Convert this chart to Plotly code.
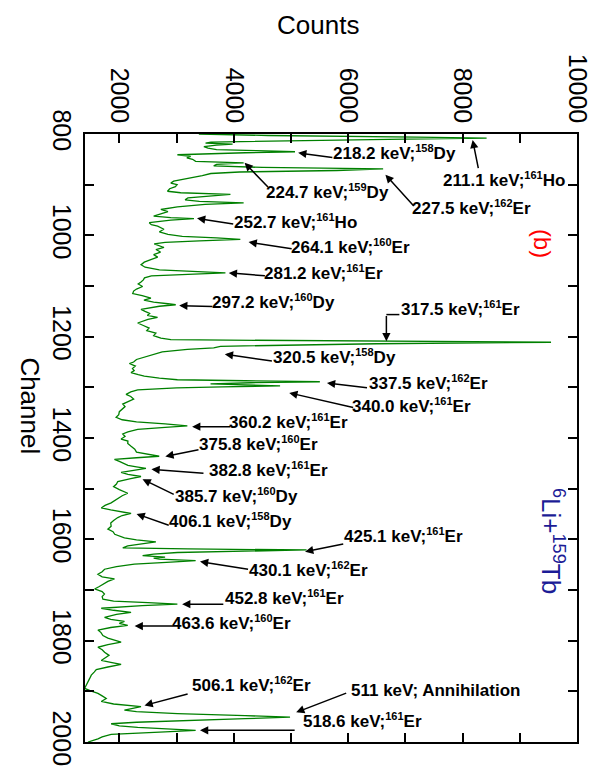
import plotly.graph_objects as go

# ---- spectrum data (channel, counts) ----
channel = [800, 803, 806, 808, 810, 813, 816, 818, 820, 822, 825, 828, 831, 833, 835, 837, 839, 841, 844, 847,
           850, 854, 857, 860, 863, 866, 869, 872, 875, 878, 882, 886, 890, 893, 897, 900, 904, 908, 913, 916,
           919, 922, 926, 930, 933, 936, 939, 944, 949, 953, 957, 962, 965, 967, 970, 975, 979, 982, 988, 993,
           998, 1002, 1005, 1008, 1011, 1014, 1017, 1021, 1024, 1028, 1033, 1038, 1043, 1048, 1053, 1058, 1063,
           1068, 1071, 1074, 1077, 1080, 1084, 1088, 1092, 1096, 1101, 1106, 1110, 1115, 1119, 1124, 1128, 1132,
           1135, 1137, 1140, 1143, 1146, 1150, 1154, 1158, 1162, 1166, 1170, 1173, 1178, 1183, 1188, 1193, 1198,
           1203, 1206, 1208, 1211, 1214, 1217, 1219, 1222, 1225, 1230, 1235, 1240, 1245, 1250, 1253, 1258, 1263,
           1267, 1271, 1275, 1278, 1282, 1285, 1287, 1289, 1291, 1293, 1295, 1297, 1299, 1301, 1305, 1309, 1314,
           1318, 1323, 1328, 1333, 1338, 1343, 1348, 1354, 1359, 1364, 1368, 1372, 1376, 1379, 1383, 1388, 1392,
           1397, 1402, 1406, 1411, 1416, 1422, 1428, 1433, 1436, 1439, 1442, 1446, 1450, 1454, 1457, 1460, 1464,
           1468, 1472, 1476, 1480, 1486, 1491, 1496, 1502, 1509, 1514, 1519, 1524, 1528, 1533, 1538, 1542, 1546,
           1549, 1553, 1557, 1563, 1568, 1574, 1580, 1585, 1590, 1597, 1601, 1605, 1609, 1613, 1617, 1619, 1621,
           1623, 1626, 1629, 1632, 1635, 1637, 1639, 1642, 1645, 1649, 1654, 1659, 1664, 1669, 1674, 1678, 1683,
           1688, 1693, 1698, 1703, 1708, 1713, 1718, 1722, 1725, 1728, 1731, 1734, 1736, 1740, 1744, 1748, 1754,
           1758, 1762, 1766, 1770, 1774, 1779, 1784, 1790, 1795, 1799, 1803, 1808, 1813, 1818, 1823, 1829, 1834,
           1839, 1843, 1847, 1852, 1857, 1862, 1868, 1875, 1881, 1888, 1894, 1899, 1904, 1909, 1914, 1920, 1925,
           1930, 1934, 1937, 1940, 1944, 1948, 1951, 1954, 1958, 1961, 1964, 1968, 1971, 1974, 1977, 1980, 1985,
           1990, 1994, 2000]
counts = [3390, 4600, 7200, 8420, 7000, 4800, 3600, 3507, 3980, 3700, 3478, 3550, 3700, 4400, 5071, 4200, 3300, 3015, 3247, 3180,
          3280, 3334, 4173, 3700, 3650, 4500, 6611, 5800, 4100, 3600, 3450, 3250, 3100, 2950, 2900, 3010, 2980, 2880, 2842, 3073,
          3942, 3600, 3200, 3150, 3400, 4173, 3500, 3015, 2726, 2850, 2720, 2600, 2900, 3305, 2900, 2523, 2560, 2670, 2780, 2700,
          2850, 3100, 3700, 4115, 3400, 2800, 2610, 2700, 2780, 2640, 2720, 2600, 2670, 2550, 2436, 2380, 2450,
          2700, 3300, 3855, 3200, 2560, 2440, 2420, 2379, 2330, 2407, 2300, 2250, 2234, 2400, 2552, 2430, 2600,
          2850, 2986, 2700, 2500, 2379, 2450, 2530, 2490, 2668, 2500, 2380, 2321, 2420, 2520, 2480, 2639, 2600,
          2726, 2900, 5500, 9546, 6500, 4300, 3768, 3650, 3189, 2750, 2600, 2470, 2300, 2250, 2176, 2280, 2230,
          2260, 2205, 2330, 2436, 2700, 3015, 4200, 5505, 4300, 3594, 4200, 4810, 3800, 3000, 2321, 2200, 2118,
          2200, 2250, 2150, 2060, 2100, 2050, 2000, 1990, 1944, 2050, 2300, 2800, 3189, 2800, 2321, 2150, 2060,
          2100, 2031, 2150, 2147, 2200, 2270, 2300, 2550, 2697, 2300, 1915, 2000, 2089, 2150, 2300, 2465, 2250,
          2031, 2150, 2379, 2200, 1973, 1950, 1900, 2000, 2147, 2050, 1973, 1900, 1857, 1750, 1684, 1850, 2100,
          2205, 2050, 1973, 1900, 1850, 1857, 1800, 1890, 1920, 2089, 2300, 2639, 2400, 2147, 2060, 3200, 5273,
          4200, 3015, 2600, 2407, 2800, 2600, 2700, 3334, 2900, 2263, 1950, 1742, 1700, 1626, 1700, 1915, 1800,
          1713, 1650, 1568, 1700, 1740, 1700, 1713, 1900, 2500, 3015, 2400, 1800, 1684, 1900, 2205, 1950, 1742,
          1850, 2089, 2000, 2147, 1850, 1626, 1680, 1713, 1800, 1900, 2031, 1800, 1626, 1700, 1742, 1820, 1750,
          1684, 1850, 2031, 1800, 1597, 1560, 1510, 1480, 1452, 1420, 1394, 1500, 1626, 1700, 1771, 1684, 1900,
          2379, 2200, 2089, 2300, 3015, 4200, 4984, 4200, 3015, 2300, 1857, 2000, 2321, 2800, 3334, 2800, 1857,
          1700, 1626, 1452]

# ---- peak labels: energy, isotope mass, element, text position, arrow tail, arrow head ----
label_energy = ["218.2", "211.1", "227.5", "224.7", "252.7", "264.1", "281.2", "297.2", "317.5",
                "320.5", "337.5", "340.0", "360.2", "375.8", "382.8", "385.7", "406.1", "425.1",
                "430.1", "452.8", "463.6", "506.1", "511", "518.6"]
label_mass = ["158", "161", "162", "159", "161", "160", "161", "160", "161",
              "158", "162", "161", "161", "160", "161", "160", "158", "161",
              "162", "161", "160", "162", "", "161"]
label_elem = ["Dy", "Ho", "Er", "Dy", "Ho", "Er", "Er", "Dy", "Er",
              "Dy", "Er", "Er", "Er", "Er", "Er", "Dy", "Dy", "Er",
              "Er", "Er", "Er", "Er", " Annihilation", "Er"]
label_x = [5819, 7743, 7206, 4658, 4086, 5091, 4623, 3705, 7015, 4779, 6443, 6148,
           4000, 3480, 3653, 3064, 2960, 6010, 4346, 3930, 3012, 3358, 6131, 5299]
label_y = [849.0, 901.8, 956.6, 925.3, 984.1, 1033.0, 1085.9, 1142.6, 1156.4, 1250.3, 1303.2, 1348.2,
           1379.6, 1422.6, 1473.6, 1524.5, 1575.4, 1604.7, 1671.3, 1726.1, 1775.1, 1898.4, 1902.4, 1968.9]
tail_x = [5750, 8280, 7171, 4623, 4017, 5039, 4571, 3653, 6668, 4693, 6356, 6114,
          3965, 3410, 3497, 2977, 2890, 5940, 4277, 3844, 2960, 3220, 5992, 5091]
tail_y = [847.0, 870.5, 944.9, 907.7, 978.2, 1027.1, 1080.0, 1140.7, 1156.4, 1248.4, 1301.2, 1340.4,
          1377.6, 1422.6, 1469.6, 1512.7, 1573.4, 1608.7, 1659.6, 1728.1, 1771.2, 1904.3, 1902.4, 1976.8]
head_x = [5126, 8176, 6651, 4190, 3358, 4259, 3913, 3046, 6668, 3844, 5629, 4970,
          3272, 2804, 2561, 2405, 2301, 5247, 3410, 3098, 2267, 2440, 5091, 3410]
head_y = [837.2, 811.7, 880.3, 856.8, 966.4, 1013.4, 1074.1, 1138.7, 1209.2, 1234.7, 1291.5, 1311.0,
          1377.6, 1436.4, 1461.8, 1481.4, 1549.9, 1624.3, 1643.9, 1728.1, 1771.2, 1927.8, 1941.5, 1976.8]

x_tickvals = [2000, 3000, 4000, 5000, 6000, 7000, 8000, 9000, 10000]
x_ticktext = ["2000", "", "4000", "", "6000", "", "8000", "", "10000"]
y_tickvals = [800, 900, 1000, 1100, 1200, 1300, 1400, 1500, 1600, 1700, 1800, 1900, 2000]
y_ticktext = ["800", "", "1000", "", "1200", "", "1400", "", "1600", "", "1800", "", "2000"]

FONT = "Arial, Liberation Sans, sans-serif"

fig = go.Figure()
fig.add_trace(go.Scatter(x=counts, y=channel, mode="lines",
                         line=dict(color="#008000", width=1.3), showlegend=False,
                         hoverinfo="skip"))

annotations = []
for i in range(len(label_energy)):
    annotations.append(dict(x=head_x[i], y=head_y[i], ax=tail_x[i], ay=tail_y[i],
                            xref="x", yref="y", axref="x", ayref="y", text="",
                            showarrow=True, arrowhead=2, arrowsize=1.1, arrowwidth=1.5,
                            arrowcolor="black", standoff=0, startstandoff=0))
    if label_mass[i]:
        txt = ("<b>" + label_energy[i] + " keV;<sup><span style='font-size:11px'>"
               + label_mass[i] + "</span></sup>" + label_elem[i] + "</b>")
        ysh = 6
    else:
        txt = "<b>" + label_energy[i] + " keV;" + label_elem[i] + "</b>"
        ysh = 2
    annotations.append(dict(x=label_x[i], y=label_y[i], xref="x", yref="y",
                            text=txt, showarrow=False, xshift=-6, yshift=ysh,
                            xanchor="left", yanchor="middle", borderpad=0,
                            font=dict(family=FONT, size=17, color="black")))

annotations += [
    dict(x=0.473, y=1.18, xref="paper", yref="paper", text="Counts", showarrow=False,
         font=dict(family=FONT, size=26, color="black"), xanchor="center", yanchor="middle"),
    dict(x=-0.111, y=0.553, xref="paper", yref="paper", text="Channel", showarrow=False,
         textangle=90, font=dict(family=FONT, size=26, color="black"),
         xanchor="center", yanchor="middle"),
    dict(x=0.93, y=0.82, xref="paper", yref="paper", text="(b)", showarrow=False,
         textangle=90, font=dict(family=FONT, size=24, color="red"),
         xanchor="center", yanchor="middle"),
    dict(x=0.95, y=0.33, xref="paper", yref="paper",
         text="<sup>6</sup>Li+<sup>159</sup>Tb", showarrow=False,
         textangle=90, font=dict(family=FONT, size=26, color="#1c1c96"),
         xanchor="center", yanchor="middle"),
]

fig.update_layout(
    width=596, height=770,
    margin=dict(l=77, r=22, t=126, b=31),
    plot_bgcolor="white", paper_bgcolor="white",
    font=dict(family=FONT, color="black"),
    annotations=annotations,
    shapes=[dict(type="line", xref="x", yref="y", x0=head_x[8], x1=label_x[8] - 120,
                 y0=tail_y[8], y1=tail_y[8], line=dict(color="black", width=1.5))],
    xaxis=dict(range=[1400, 10000], side="top", tickmode="array", tickvals=x_tickvals,
               ticktext=x_ticktext, ticks="inside", ticklen=9, tickwidth=1.5, tickcolor="black",
               showline=True, linewidth=2, linecolor="black", mirror="ticks",
               tickangle=90, tickfont=dict(family=FONT, size=25, color="black"),
               showgrid=False, zeroline=False),
    yaxis=dict(range=[2000, 800], tickmode="array", tickvals=y_tickvals, ticktext=y_ticktext,
               ticks="inside", ticklen=9, tickwidth=1.5, tickcolor="black",
               showline=True, linewidth=2, linecolor="black", mirror="ticks",
               tickangle=90, tickfont=dict(family=FONT, size=25, color="black"),
               showgrid=False, zeroline=False),
)

fig.write_html("out.html")
